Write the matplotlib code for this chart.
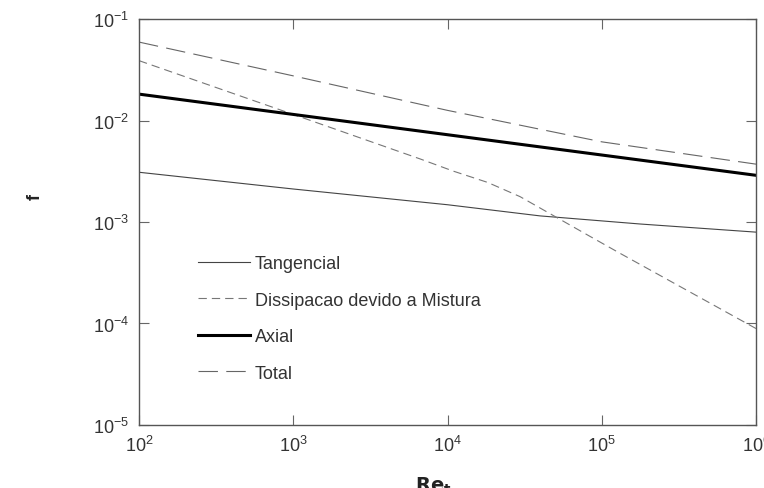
import matplotlib
matplotlib.use("Agg")
import matplotlib.pyplot as plt
import numpy as np

plt.rcParams['font.family'] = ['Liberation Sans', 'DejaVu Sans']
plt.rcParams['lines.scale_dashes'] = False
plt.rcParams['axes.unicode_minus'] = False

# Reynolds number (log10) and friction factor readings (log10)
log_re = [2, 3, 4, 5, 6]
log_re_tang = [2, 3, 4, 4.6, 5.25, 6]
log_re_mix = [2, 3, 3.825, 4.04, 4.26, 4.47, 4.69, 4.91, 5.12, 6]

log_f_tangencial = [-2.51, -2.675, -2.83, -2.94, -3.02, -3.10]
log_f_mistura = [-1.41, -1.94, -2.38, -2.50, -2.61, -2.75, -2.94, -3.13, -3.31, -4.05]
log_f_axial = [-1.74, -1.94, -2.14, -2.34, -2.54]
log_f_total = [-1.227, -1.56, -1.90, -2.21, -2.43]

labels = ["Tangencial", "Dissipacao devido a Mistura", "Axial", "Total"]

re = 10.0 ** np.array(log_re)
re_tang = 10.0 ** np.array(log_re_tang)
re_mix = 10.0 ** np.array(log_re_mix)

fig = plt.figure(figsize=(7.64, 4.89), dpi=100)
ax = fig.add_axes([0.182, 0.129, 0.8075, 0.830])

ax.plot(re_tang, 10.0 ** np.array(log_f_tangencial), color="#444444", lw=0.8, label=labels[0])
ax.plot(re_mix, 10.0 ** np.array(log_f_mistura), color="#777777", lw=0.8,
        dashes=(6, 3.6), label=labels[1])
ax.plot(re, 10.0 ** np.array(log_f_axial), color="black", lw=2.2, label=labels[2])
ax.plot(re, 10.0 ** np.array(log_f_total), color="#666666", lw=0.8,
        dashes=(14, 6), label=labels[3])

ax.set_xscale("log")
ax.set_yscale("log")
ax.set_xlim(1e2, 1e6)
ax.set_ylim(1e-5, 1e-1)
ax.minorticks_off()
ax.set_xticks([1e2, 1e3, 1e4, 1e5, 1e6])
ax.set_yticks([1e-5, 1e-4, 1e-3, 1e-2, 1e-1])
ax.tick_params(which="both", direction="in", length=7, width=0.8, color="#666666",
               top=True, right=True, labelsize=13, labelcolor="#333333", pad=7)
for s in ax.spines.values():
    s.set_color("#555555")
    s.set_linewidth(1.0)

leg = ax.legend(loc="upper left", bbox_to_anchor=(0.095, 0.418), frameon=False,
                fontsize=13, handlelength=2.9, handletextpad=0.25,
                labelspacing=1.08, borderpad=0, borderaxespad=0)
for t in leg.get_texts():
    t.set_color("#333333")

fig.text(0.046, 0.597, "f", rotation=90, fontsize=13, fontweight="bold",
         ha="center", va="center", color="#222222")
fig.text(0.567, 0.006, r"$\mathbf{Re_t}$", fontsize=14, ha="center", va="center",
         color="#222222")

fig.savefig("out.png", dpi=100)
